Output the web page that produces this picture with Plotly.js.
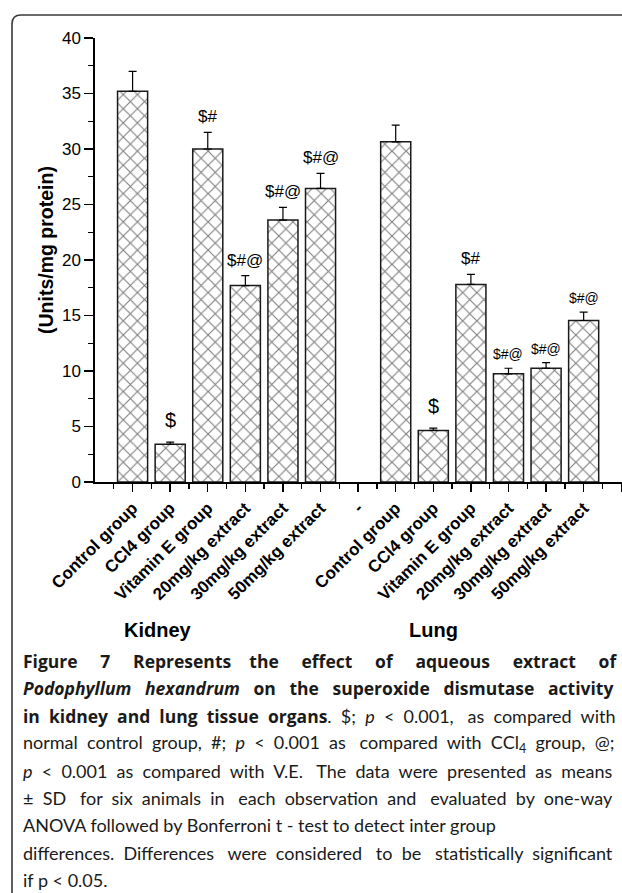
<!DOCTYPE html>
<html>
<head>
<meta charset="utf-8">
<script src="https://cdn.plot.ly/plotly-3.0.1.min.js"></script>
<style>html,body{margin:0;padding:0;background:#fff;}#chart{width:622px;height:893px;}</style>
</head>
<body>
<div id="chart"></div>
<script>
// ---------- data ----------
const groupLabels = ["Control group", "CCl4 group", "Vitamin E group", "20mg/kg extract", "30mg/kg extract", "50mg/kg extract"];
const organs = ["Kidney", "Lung"];
const spacerLabel = "-";
const kidneyMean = [35.2, 3.4, 30.0, 17.7, 23.6, 26.45];
const kidneySD   = [1.8, 0.2, 1.5, 0.9, 1.15, 1.35];
const lungMean   = [30.65, 4.65, 17.8, 9.75, 10.25, 14.55];
const lungSD     = [1.5, 0.2, 0.9, 0.5, 0.5, 0.75];
const kidneySig  = ["", "$", "$#", "$#@", "$#@", "$#@"];
const lungSig    = ["", "$", "$#", "$#@", "$#@", "$#@"];
const yTitle = "(Units/mg protein)";
// caption: segments per line [text, style]  (b = bold, i = italic, bi = bold italic, s = subscript)
const captionLines = [
  [["Figure 7 Represents the effect of aqueous extract of", "b"]],
  [["Podophyllum hexandrum", "bi"], [" on the superoxide dismutase activity", "b"]],
  [["in kidney and lung tissue organs", "b"], [". $; ", ""], ["p", "i"], [" < 0.001, as compared with", ""]],
  [["normal control group, #; ", ""], ["p", "i"], [" < 0.001 as compared with CCl", ""], ["4", "s"], [" group, @;", ""]],
  [["p", "i"], [" < 0.001 as compared with V.E. The data were presented as means", ""]],
  [["± SD for six animals in each observation and evaluated by one-way", ""]],
  [["ANOVA followed by Bonferroni t - test to detect inter group", ""]],
  [["differences. Differences were considered to be statistically significant", ""]],
  [["if p < 0.05.", ""]]
];
const justified = [true, true, true, true, true, true, false, true, false];

// ---------- layout helpers ----------
const W = 622, H = 893;
const px = x => x / W;
const py = y => 1 - y / H;

// categories: kidney group, spacer, lung group, spacer
const tickText = [].concat(groupLabels, [spacerLabel], groupLabels, [spacerLabel]);
const nCat = tickText.length;
const kidneyX = groupLabels.map((_, i) => i);
const lungX = groupLabels.map((_, i) => groupLabels.length + 1 + i);

const barStyle = {
  color: "#ffffff",
  line: {color: "#1a1a1a", width: 1.5},
  pattern: {shape: "x", size: 10, solidity: 0.21, fgcolor: "#000", bgcolor: "#fff", fillmode: "overlay"}
};
function barTrace(x, mean, sd, name) {
  return {
    type: "bar", x: x, y: mean, name: name, width: 0.8,
    marker: barStyle,
    error_y: {type: "data", symmetric: false, array: sd, arrayminus: sd.map(() => 0),
              color: "#000", thickness: 1.2, width: 4},
    hoverinfo: "skip"
  };
}
const traces = [barTrace(kidneyX, kidneyMean, kidneySD, organs[0]),
                barTrace(lungX, lungMean, lungSD, organs[1])];

const annotations = [];
function sigAnn(xs, mean, sd, sig, isLung) {
  sig.forEach((s, i) => {
    if (!s) return;
    const single = s.length === 1;
    const small = isLung && s.length > 2;
    annotations.push({
      x: xs[i], y: mean[i] + sd[i], xref: "x", yref: "y", text: s, showarrow: false,
      yanchor: "bottom", yshift: single ? 9 : 4,
      font: {family: "Liberation Sans, Arial, sans-serif", size: single ? 20 : (small ? 14 : 17), color: "#000"}
    });
  });
}
sigAnn(kidneyX, kidneyMean, kidneySD, kidneySig, false);
sigAnn(lungX, lungMean, lungSD, lungSig, true);

annotations.push({
  x: px(46), y: py(250), xref: "paper", yref: "paper", text: "<b>" + yTitle + "</b>",
  textangle: -90, showarrow: false, xanchor: "center", yanchor: "middle",
  font: {family: "Liberation Sans, Arial, sans-serif", size: 19.5, color: "#000"}
});
const organPos = [158, 433];
organs.forEach((o, i) => annotations.push({
  x: px(organPos[i]), y: py(630), xref: "paper", yref: "paper", text: "<b>" + o + "</b>",
  showarrow: false, xanchor: "center", yanchor: "middle",
  font: {family: "Liberation Sans, Arial, sans-serif", size: 20, color: "#000"}
}));

// ---------- caption with justification ----------
const regFam = "Lato", regSize = 18;
const boldFam = "Open Sans", boldSize = 17.5;
const capLeft = 21, capRight = 612;
const ctx = document.createElement("canvas").getContext("2d");
function segFont(st) {
  const b = st.indexOf("b") >= 0, it = st.indexOf("i") >= 0, sb = st === "s";
  if (b) return (it ? "italic " : "") + "bold " + boldSize + "px '" + boldFam + "'";
  return (it ? "italic " : "") + (sb ? regSize * 0.7 : regSize) + "px '" + regFam + "'";
}
function esc(t) { return t.replace(/&/g, "&amp;").replace(/</g, "&lt;").replace(/>/g, "&gt;"); }
function wrapSeg(out, st) {
  if (st === "b" || st === "bi") {
    return '<span style="font-family:' + boldFam + ';font-weight:bold;' + (st === "bi" ? "font-style:italic;" : "") +
           'font-size:' + boldSize + 'px">' + out + "</span>";
  }
  if (st === "i") return "<i>" + out + "</i>";
  if (st === "s") return "<sub>" + out + "</sub>";
  return out;
}
function buildLine(segs, just) {
  let w = 0, nGaps = 0;
  segs.forEach(([t, st]) => {
    ctx.font = segFont(st);
    w += ctx.measureText(t).width;
    nGaps += (t.match(/ /g) || []).length;
  });
  const extra = (capRight - capLeft) - w;
  if (!just || nGaps === 0 || extra <= 0) return segs.map(([t, st]) => wrapSeg(esc(t), st)).join("");
  let g = 0, added = 0;
  return segs.map(([t, st]) => {
    ctx.font = segFont(st);
    const sw = ctx.measureText("\u00A0").width;
    const parts = t.split(" ");
    let out = esc(parts[0]);
    for (let k = 1; k < parts.length; k++) {
      const want = extra * (g + 1) / nGaps - added;
      const n = Math.max(0, Math.round(want / sw));
      added += n * sw; g++;
      out += " " + "\u00A0".repeat(n) + esc(parts[k]);
    }
    return wrapSeg(out, st);
  }).join("");
}
captionLines.forEach((segs, i) => {
  annotations.push({
    x: px(capLeft), y: py(661 + 27.4 * i), xref: "paper", yref: "paper",
    text: buildLine(segs, justified[i]), showarrow: false,
    xanchor: "left", yanchor: "middle", align: "left",
    font: {family: regFam + ", sans-serif", size: regSize, color: "#1a1a1a"}
  });
});

// border frame with rounded top-left corner, and the x tick at the axis origin
const shapes = [{
  type: "path", xref: "paper", yref: "paper",
  path: `M ${px(12)} ${py(893)} L ${px(12)} ${py(24)} Q ${px(12)} ${py(15)} ${px(21)} ${py(15)} L ${px(622)} ${py(15)}`,
  line: {color: "#3a3a3a", width: 1.6}
}, {
  type: "line", xref: "x", yref: "y", ysizemode: "pixel", yanchor: 0,
  x0: -1, x1: -1, y0: 0, y1: -8, line: {color: "#000", width: 1.4}
}];

const majorVals = [], minorVals = [], majorText = [];
for (let v = 0; v < nCat; v++) { majorVals.push(v); majorText.push(tickText[v]); }
for (let v = -0.5; v < nCat - 0.5; v++) minorVals.push(v);

const layout = {
  width: W, height: H,
  margin: {l: 0, r: 0, t: 0, b: 0, pad: 0},
  paper_bgcolor: "#fff", plot_bgcolor: "rgba(0,0,0,0)",
  showlegend: false, bargap: 0,
  xaxis: {
    domain: [px(95), 1], range: [-1, nCat - 1 + 0.02],
    tickmode: "array", tickvals: majorVals, ticktext: majorText, tickangle: -45,
    ticks: "outside", ticklen: 8, tickwidth: 1.4, tickcolor: "#000",
    showline: true, linecolor: "#000", linewidth: 1.6, showgrid: false, zeroline: false,
    tickfont: {family: "Liberation Sans, Arial, sans-serif", size: 17, weight: "bold", color: "#000"},
    minor: {tickmode: "array", tickvals: minorVals, ticks: "outside", ticklen: 5, tickwidth: 1.4, tickcolor: "#000", showgrid: false},
    fixedrange: true
  },
  yaxis: {
    domain: [py(482), py(38)], range: [0, 40], tickmode: "linear", tick0: 0, dtick: 5,
    ticks: "outside", ticklen: 9, tickwidth: 1.4, tickcolor: "#000",
    showline: true, linecolor: "#000", linewidth: 1.6, showgrid: false, zeroline: false,
    tickfont: {family: "Liberation Sans, Arial, sans-serif", size: 17, color: "#000"},
    minor: {dtick: 2.5, ticks: "outside", ticklen: 5, tickwidth: 1.4, tickcolor: "#000", showgrid: false},
    fixedrange: true
  },
  annotations: annotations,
  shapes: shapes
};
Plotly.newPlot("chart", traces, layout, {staticPlot: true, displayModeBar: false});
</script>
</body>
</html>
